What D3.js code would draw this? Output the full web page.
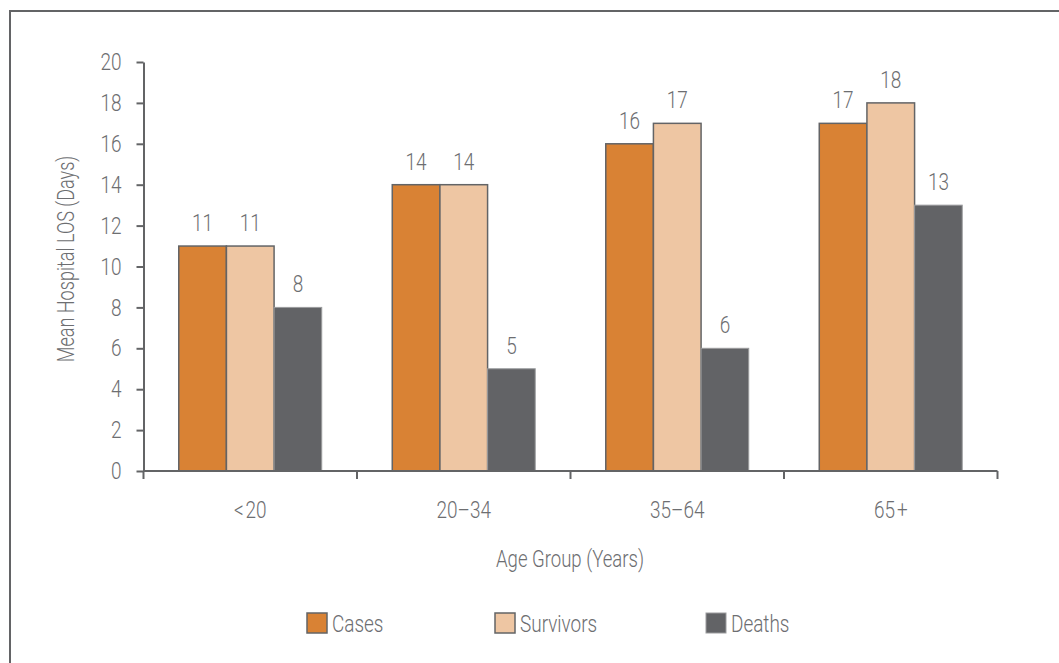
<!DOCTYPE html>
<html>
<head>
<meta charset="utf-8">
<script src="https://cdn.jsdelivr.net/npm/d3@7"></script>
<style>
  html, body { margin: 0; padding: 0; background: #fff; }
  svg { display: block; }
  text { font-family: "Roboto", "Liberation Sans", sans-serif; font-weight: 300; fill: #6d6e71; }
</style>
</head>
<body>
<svg id="chart" width="1059" height="663"></svg>
<script>
const categories = ["<20", "20\u201334", "35\u201364", "65+"];
const categoryLabels = ["<\u200A20", "20\u201334", "35\u201364", "65\u200A+"];
const seriesNames = ["Cases", "Survivors", "Deaths"];
const cases = [11, 14, 16, 17];
const survivors = [11, 14, 17, 18];
const deaths = [8, 5, 6, 13];
const yTicks = [0, 2, 4, 6, 8, 10, 12, 14, 16, 18, 20];
const colors = ["#d98234", "#eec6a3", "#626366"];
const strokes = ["#636466", "#636466", "#9b9c9e"];

const seriesValues = [cases, survivors, deaths];
const svg = d3.select("#chart");
const SX = 0.79;

function addText(parent, x, y, str, size, anchor, sx) {
  return parent.append("text")
    .attr("transform", `translate(${x},${y}) scale(${sx || SX},1)`)
    .attr("text-anchor", anchor || "middle")
    .attr("font-size", size)
    .text(str);
}

// frame (only top and left visible)
svg.append("rect").attr("x", 10).attr("y", 11).attr("width", 1100).attr("height", 700)
  .attr("fill", "none").attr("stroke", "#636466").attr("stroke-width", 2);

const mLeft = 143.5, mRight = 997.5, mTop = 62, mBottom = 471;

const x = d3.scaleBand().domain(categories).range([mLeft, mRight]).paddingInner(0).paddingOuter(0);
const x1 = d3.scaleBand().domain(seriesNames).range([0, x.bandwidth()]).paddingInner(0).paddingOuter(0.74);
const y = d3.scaleLinear().domain([0, 20]).range([mBottom, mTop]);

// bars
const groups = svg.append("g").selectAll("g").data(categories).join("g")
  .attr("transform", d => `translate(${x(d)},0)`);

groups.each(function(cat, ci) {
  const g = d3.select(this);
  seriesNames.forEach((s, si) => {
    const v = seriesValues[si][ci];
    g.append("rect")
      .attr("x", x1(s))
      .attr("y", y(v))
      .attr("width", x1.bandwidth())
      .attr("height", y(0) - y(v))
      .attr("fill", colors[si])
      .attr("stroke", strokes[si])
      .attr("stroke-width", si === 2 ? 1 : 1.5);
    addText(g, x1(s) + x1.bandwidth() / 2, y(v) - 15, v, 24, "middle");
  });
});

// y axis
const yAxis = d3.axisLeft(y).tickValues(yTicks).tickSize(7).tickPadding(15).tickSizeOuter(0);
const gy = svg.append("g").attr("transform", `translate(${mLeft},0)`).call(yAxis);
gy.select(".domain").attr("stroke", "#636466").attr("stroke-width", 2);
gy.selectAll(".tick line").attr("stroke", "#636466").attr("stroke-width", 2);
gy.selectAll(".tick text")
  .attr("font-size", 24).attr("fill", "#6d6e71")
  .attr("font-family", "Roboto, sans-serif").attr("font-weight", 300)
  .each(function() {
    const t = d3.select(this);
    const tx = +t.attr("x");
    t.attr("x", 0).attr("transform", `translate(${tx},0) scale(${SX},1)`);
  });

// x axis
const xAxisLine = svg.append("g");
xAxisLine.append("line").attr("x1", mLeft).attr("x2", mRight).attr("y1", mBottom).attr("y2", mBottom)
  .attr("stroke", "#636466").attr("stroke-width", 2);
const boundaries = categories.map(c => x(c)).concat([x(categories[categories.length - 1]) + x.bandwidth()]);
xAxisLine.selectAll("line.tk").data(boundaries).join("line").attr("class", "tk")
  .attr("x1", d => d).attr("x2", d => d).attr("y1", mBottom).attr("y2", mBottom + 8)
  .attr("stroke", "#636466").attr("stroke-width", 2);
const xl = svg.append("g");
categories.forEach((c, i) => addText(xl, x(c) + x.bandwidth() / 2, 518, categoryLabels[i], 24, "middle"));

// axis titles
addText(svg, 570, 567, "Age Group (Years)", 23.5, "middle");
svg.append("text").attr("transform", "translate(74,259) rotate(-90) scale(0.77,1)").attr("text-anchor", "middle")
  .attr("font-size", 23.5).text("Mean Hospital LOS (Days)");

// legend
const legendX = [307, 495, 706];
const lg = svg.append("g").selectAll("g").data(seriesNames).join("g")
  .attr("transform", (d, i) => `translate(${legendX[i]},613)`);
lg.append("rect").attr("width", 20).attr("height", 20)
  .attr("fill", (d, i) => colors[i]).attr("stroke", (d, i) => strokes[i])
  .attr("stroke-width", (d, i) => i === 2 ? 1 : 1.5);
lg.each(function(d) { addText(d3.select(this), 25, 19, d, 24, "start"); });
</script>
</body>
</html>
